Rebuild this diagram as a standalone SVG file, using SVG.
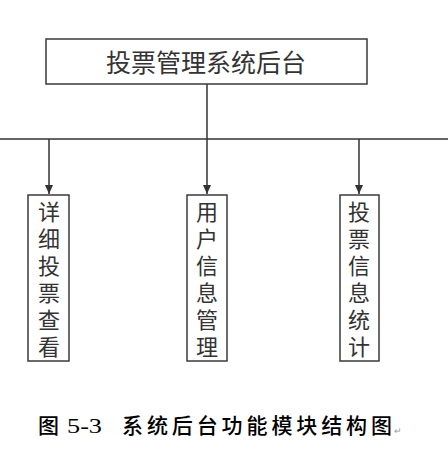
<svg xmlns="http://www.w3.org/2000/svg" width="448" height="452" viewBox="0 0 448 452">
<style>
.box{fill:#fff;stroke:#3a3a3a;stroke-width:1.5}
.ln{fill:none;stroke:#333;stroke-width:1.5}
.t{font-family:"Noto Sans CJK SC","Noto Sans",sans-serif;fill:#333;text-anchor:middle}
.v{font-family:"Noto Sans CJK SC","Noto Sans",sans-serif;fill:#333;font-size:22px;writing-mode:vertical-rl;letter-spacing:5px}
.cap{font-family:"Liberation Serif","Noto Sans CJK SC",serif;fill:#000;font-size:21px;font-weight:500}
</style>
<defs>
<marker id="ah" markerWidth="10" markerHeight="10" refX="9" refY="5" orient="auto" markerUnits="userSpaceOnUse">
<path d="M0,1 L9,5 L0,9 Z" fill="#333"/>
</marker>
</defs>
<rect width="448" height="452" fill="#fff"/>
<g id="connectors">
<line class="ln" x1="207" y1="84" x2="207" y2="139"/>
<line class="ln" x1="0" y1="139" x2="448" y2="139"/>
<line class="ln" x1="49" y1="139" x2="49" y2="194" marker-end="url(#ah)"/>
<line class="ln" x1="207" y1="139" x2="207" y2="194" marker-end="url(#ah)"/>
<line class="ln" x1="359" y1="139" x2="359" y2="194" marker-end="url(#ah)"/>
</g>
<g id="root">
<rect class="box" x="46" y="39" width="321" height="45"/>
<text class="t" x="206" y="72" font-size="25">投票管理系统后台</text>
</g>
<g id="n1">
<rect class="box" x="28" y="195" width="41" height="166"/>
<text class="v" x="49" y="201">详细投票查看</text>
</g>
<g id="n2">
<rect class="box" x="187" y="195" width="40" height="166"/>
<text class="v" x="207" y="201">用户信息管理</text>
</g>
<g id="n3">
<rect class="box" x="340" y="195" width="39" height="166"/>
<text class="v" x="359" y="201">投票信息统计</text>
</g>
<g id="caption">
<text class="cap" x="38" y="433">图</text>
<text class="cap" x="67" y="433" textLength="35" lengthAdjust="spacingAndGlyphs">5-3</text>
<text class="cap" x="122" y="433" textLength="270" lengthAdjust="spacing">系统后台功能模块结构图</text>
<text x="394" y="434" font-family="Liberation Sans,sans-serif" font-size="9" fill="#999">↵</text>
</g>
</svg>
